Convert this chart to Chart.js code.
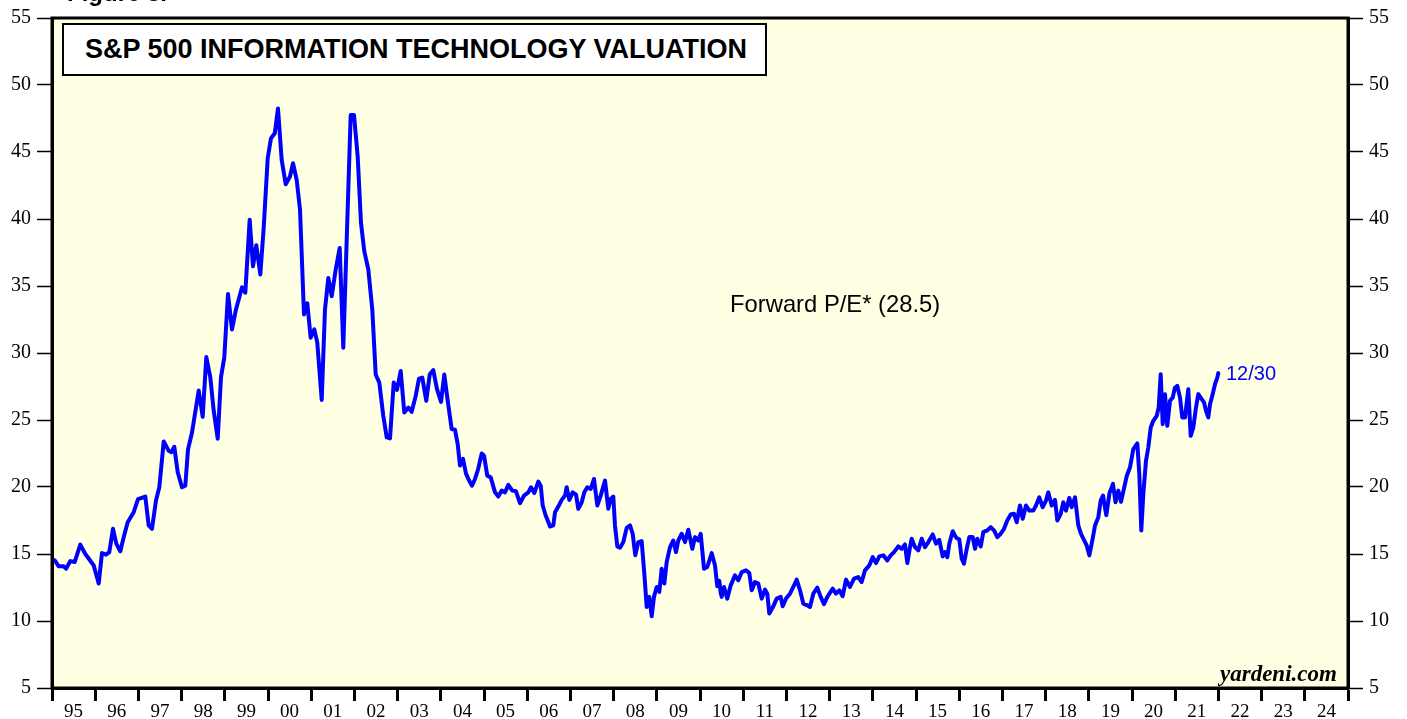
<!DOCTYPE html>
<html>
<head>
<meta charset="utf-8">
<script src="https://cdn.jsdelivr.net/npm/chart.js@4.4.0/dist/chart.umd.min.js"></script>
<style>
  html, body { margin:0; padding:0; background:#fff; }
  #wrap { position:relative; width:1407px; height:719px; overflow:hidden; }
  #c { position:absolute; left:0; top:0; }
  .t { position:absolute; white-space:nowrap; }
  #fig { left:67px; top:-19px; font:bold 24px "Liberation Sans", Arial, sans-serif; line-height:24px; color:#000; }
  #titlebox { left:62px; top:23px; width:701px; height:49px; border:2px solid #000; background:#fff; box-sizing:content-box; }
  #title { left:85px; top:34px; font:bold 27px "Liberation Sans", Arial, sans-serif; line-height:30px; color:#000; }
  #fpe { left:730px; top:290px; font:23.8px "Liberation Sans", Arial, sans-serif; line-height:28px; color:#000; }
  #last { left:1226px; top:361px; font:20px "Liberation Sans", Arial, sans-serif; line-height:24px; color:#0000ff; }
  #src { left:1220px; top:661px; font:italic bold 23px "Liberation Serif", "Times New Roman", serif; line-height:26px; color:#000; }
</style>
</head>
<body>
<div id="wrap">
  <canvas id="c" width="1407" height="719"></canvas>
  <div class="t" id="fig">Figure 3.</div>
  <div class="t" id="titlebox"></div>
  <div class="t" id="title">S&amp;P 500 INFORMATION TECHNOLOGY VALUATION</div>
  <div class="t" id="fpe">Forward P/E* (28.5)</div>
  <div class="t" id="last">12/30</div>
  <div class="t" id="src">yardeni.com</div>
</div>
<script>
// ---- data (decimal year, forward P/E) ----
const dates = [
1995.02,1995.063,1995.155,1995.271,1995.324,1995.424,1995.525,1995.655,1995.771,1995.887,1995.965,
1996.081,1996.157,1996.25,1996.326,1996.412,1996.488,1996.581,1996.66,1996.752,1996.891,1996.991,
1997.16,1997.238,1997.315,1997.407,1997.484,1997.586,1997.701,1997.762,1997.831,1997.91,
1998.009,1998.086,1998.148,1998.241,1998.396,1998.488,1998.572,1998.664,1998.743,1998.836,1998.912,1998.988,
1999.074,1999.167,1999.259,1999.398,1999.475,1999.576,1999.653,1999.729,1999.822,1999.9,1999.993,
2000.069,2000.157,2000.231,2000.317,2000.41,2000.509,2000.579,2000.664,2000.741,2000.833,2000.91,2000.988,
2001.072,2001.141,2001.243,2001.319,2001.396,2001.475,2001.567,2001.66,2001.743,2001.822,2001.914,2001.991,
2002.076,2002.153,2002.229,2002.322,2002.414,2002.493,2002.576,2002.669,2002.748,2002.824,2002.91,2002.986,
2003.072,2003.155,2003.248,2003.326,2003.419,2003.495,2003.572,2003.664,2003.743,2003.826,2003.912,
2004.005,2004.081,2004.16,2004.252,2004.329,2004.391,2004.444,2004.514,2004.583,2004.653,2004.722,2004.792,2004.861,2004.947,
2005.0,2005.076,2005.155,2005.255,2005.331,2005.41,2005.486,2005.563,2005.655,2005.741,2005.833,2005.926,
2006.025,2006.088,2006.164,2006.257,2006.313,2006.359,2006.428,2006.475,2006.528,2006.604,2006.644,2006.72,2006.799,2006.875,2006.914,2006.975,
2007.053,2007.13,2007.183,2007.262,2007.322,2007.391,2007.47,2007.546,2007.623,2007.701,2007.801,2007.877,2007.933,2007.993,
2008.032,2008.086,2008.148,2008.225,2008.303,2008.38,2008.442,2008.502,2008.572,2008.65,2008.711,2008.766,2008.826,2008.882,2008.935,2008.998,
2009.058,2009.113,2009.174,2009.229,2009.306,2009.382,2009.444,2009.498,2009.576,2009.653,2009.729,2009.822,2009.884,2009.961,
2010.016,2010.093,2010.169,2010.271,2010.347,2010.4,2010.447,2010.479,2010.502,2010.556,2010.632,2010.711,2010.81,2010.887,2010.965,
2011.065,2011.141,2011.197,2011.273,2011.35,2011.428,2011.505,2011.558,2011.604,2011.683,2011.775,2011.868,2011.914,2011.991,
2012.083,2012.16,2012.238,2012.315,2012.391,2012.484,2012.546,2012.623,2012.715,2012.794,2012.87,2012.947,
2013.072,2013.148,2013.225,2013.303,2013.38,2013.472,2013.565,2013.664,2013.743,2013.819,2013.919,2013.998,
2014.074,2014.151,2014.243,2014.336,2014.414,2014.491,2014.59,2014.669,2014.745,2014.799,2014.861,2014.9,2014.977,
2015.053,2015.132,2015.208,2015.285,2015.387,2015.463,2015.539,2015.618,2015.671,2015.725,2015.771,2015.849,2015.933,
2016.002,2016.058,2016.111,2016.174,2016.234,2016.313,2016.366,2016.419,2016.498,2016.558,2016.65,2016.729,2016.806,2016.882,2016.961,
2017.037,2017.113,2017.192,2017.269,2017.331,2017.407,2017.47,2017.546,2017.623,2017.715,2017.778,2017.854,2017.933,
2018.009,2018.062,2018.141,2018.218,2018.271,2018.35,2018.41,2018.472,2018.549,2018.604,2018.681,2018.757,2018.819,2018.873,2018.951,
2019.012,2019.09,2019.144,2019.22,2019.275,2019.329,2019.405,2019.479,2019.56,2019.618,2019.683,2019.745,2019.815,2019.877,2019.954,
2020.03,2020.123,2020.169,2020.215,2020.262,2020.324,2020.377,2020.433,2020.493,2020.572,2020.618,2020.664,2020.711,2020.764,2020.817,2020.88,2020.942,2020.995,
2021.049,2021.111,2021.164,2021.227,2021.303,2021.359,2021.419,2021.481,2021.535,2021.613,2021.667,2021.713,2021.766,2021.806,2021.868,2021.921,2021.975,2021.997
];
const values = [
14.6,14.52,14.08,14.08,13.9,14.47,14.4,15.7,15.0,14.5,14.15,
12.8,15.07,14.95,15.14,16.88,15.77,15.2,16.26,17.37,18.12,19.1,
19.29,17.13,16.88,18.99,19.98,23.4,22.7,22.6,23.0,21.1,
19.98,20.1,22.8,24.07,27.2,25.24,29.7,28.2,25.7,23.6,28.2,29.65,
34.4,31.76,33.25,34.9,34.5,39.95,36.47,38.04,35.86,39.32,44.53,
46.02,46.4,48.25,44.4,42.6,43.17,44.16,42.92,40.7,32.88,33.7,31.14,
31.76,30.77,26.5,33.25,35.6,34.24,36.23,37.84,30.4,38.46,47.76,47.76,
44.66,39.7,37.6,36.23,33.25,28.4,27.79,25.3,23.7,23.63,27.79,27.25,
28.66,25.56,25.93,25.61,26.8,28.09,28.16,26.43,28.4,28.73,27.3,
26.35,28.4,26.43,24.32,24.27,23.2,21.6,22.1,21.0,20.5,20.1,20.6,21.3,22.5,
22.34,20.85,20.72,19.6,19.29,19.73,19.6,20.16,19.73,19.68,18.79,19.36,
19.6,19.98,19.55,20.4,20.1,18.62,17.87,17.5,17.05,17.13,18.12,18.54,19.04,19.36,19.98,19.04,
19.6,19.43,18.37,18.86,19.6,19.98,19.86,20.6,18.62,19.36,20.48,18.37,19.11,19.29,
17.13,15.57,15.47,15.89,16.95,17.13,16.51,14.9,15.89,15.96,13.53,11.05,11.8,10.36,11.8,12.54,
12.17,13.9,12.8,14.4,15.51,16.01,15.14,16.01,16.51,15.89,16.81,15.39,16.26,16.01,
16.51,13.9,14.03,15.07,14.15,12.6,13.0,12.1,11.8,12.54,11.67,12.66,13.41,13.04,13.65,
13.78,13.58,12.29,12.91,12.79,11.67,12.34,12.04,10.56,11.0,11.67,11.8,11.1,11.67,
12.04,12.54,13.09,12.29,11.3,11.17,11.05,12.04,12.49,11.8,11.25,11.8,
12.42,12.04,12.29,11.85,13.09,12.54,13.16,13.28,12.91,13.78,14.15,14.77,
14.32,14.82,14.9,14.52,14.9,15.14,15.57,15.39,15.71,14.32,15.51,16.14,15.51,
15.27,16.14,15.51,15.89,16.46,15.77,16.06,14.82,15.14,14.77,15.77,16.7,16.2,
16.1,14.65,14.28,15.39,16.26,16.26,15.39,16.14,15.57,16.63,16.76,17.0,16.76,16.26,16.51,
16.88,17.5,17.95,18.0,17.37,18.62,17.63,18.62,18.24,18.24,18.62,19.23,18.49,
18.99,19.6,18.62,19.04,17.5,18.0,18.86,18.24,19.19,18.49,19.23,17.13,16.51,16.14,15.64,
14.9,16.14,17.13,17.75,18.99,19.36,17.9,19.55,20.23,18.86,19.73,18.9,19.9,20.8,21.47,
22.83,23.25,20.97,16.76,19.49,21.96,22.95,24.44,24.94,25.31,25.93,28.41,24.69,26.93,24.57,26.43,26.68,27.42,
27.54,26.68,25.19,25.19,27.3,23.82,24.44,25.93,26.93,26.56,26.31,25.68,25.19,26.18,26.93,27.67,28.16,28.5
];
const yTicks = [5,10,15,20,25,30,35,40,45,50,55];
const xYears = [1995,1996,1997,1998,1999,2000,2001,2002,2003,2004,2005,2006,2007,2008,2009,2010,2011,2012,2013,2014,2015,2016,2017,2018,2019,2020,2021,2022,2023,2024,2025];
const xLabels = ['95','96','97','98','99','00','01','02','03','04','05','06','07','08','09','10','11','12','13','14','15','16','17','18','19','20','21','22','23','24',''];

const points = dates.map((d, i) => ({ x: d, y: values[i] }));

const frame = {
  id: 'frame',
  beforeDraw(chart) {
    const { ctx, chartArea: a } = chart;
    ctx.save();
    ctx.fillStyle = '#ffffe3';
    ctx.fillRect(a.left, a.top, a.right - a.left, a.bottom - a.top);
    ctx.restore();
  },
  afterDraw(chart) {
    const { ctx, chartArea: a } = chart;
    ctx.save();
    ctx.strokeStyle = '#000';
    ctx.lineWidth = 3;
    ctx.strokeRect(a.left, a.top, a.right - a.left, a.bottom - a.top);
    ctx.restore();
  }
};

const yCommon = (pos, w) => ({
  type: 'linear', position: pos, min: 5, max: 55,
  afterBuildTicks: s => { s.ticks = yTicks.map(v => ({ value: v })); },
  afterFit: s => { s.width = w; },
  grid: { drawOnChartArea: false, drawTicks: true, tickLength: 15, tickWidth: 1.5, tickColor: '#000' },
  border: { display: true, color: '#000', width: 3 },
  ticks: { color: '#000', padding: 6, font: { family: '"Liberation Serif", "Times New Roman", serif', size: 20 } }
});

new Chart(document.getElementById('c'), {
  type: 'line',
  data: { datasets: [{ data: points, borderColor: '#0000ff', borderWidth: 4, pointRadius: 0, tension: 0, borderJoinStyle: 'round', borderCapStyle: 'round', yAxisID: 'y' }] },
  options: {
    responsive: false, animation: false, devicePixelRatio: 1,
    layout: { padding: { top: 16, left: 0, right: 0, bottom: 0 } },
    plugins: { legend: { display: false }, tooltip: { enabled: false }, title: { display: false } },
    scales: {
      x: {
        type: 'linear', position: 'bottom', min: 1995, max: 2025,
        afterBuildTicks: s => { s.ticks = xYears.map(v => ({ value: v })); },
        afterFit: s => { s.height = 31; },
        grid: { drawOnChartArea: false, drawTicks: true, tickLength: 13, tickWidth: 3, tickColor: '#000' },
        border: { display: true, color: '#000', width: 3 },
        ticks: {
          color: '#000', padding: 0, labelOffset: 21.6, autoSkip: false, maxRotation: 0, minRotation: 0,
          font: { family: '"Liberation Serif", "Times New Roman", serif', size: 19 },
          callback: (v) => { const i = xYears.indexOf(Math.round(v)); return i >= 0 ? xLabels[i] : ''; }
        }
      },
      y: yCommon('left', 52),
      y2: yCommon('right', 59)
    }
  },
  plugins: [frame]
});
</script>
</body>
</html>
